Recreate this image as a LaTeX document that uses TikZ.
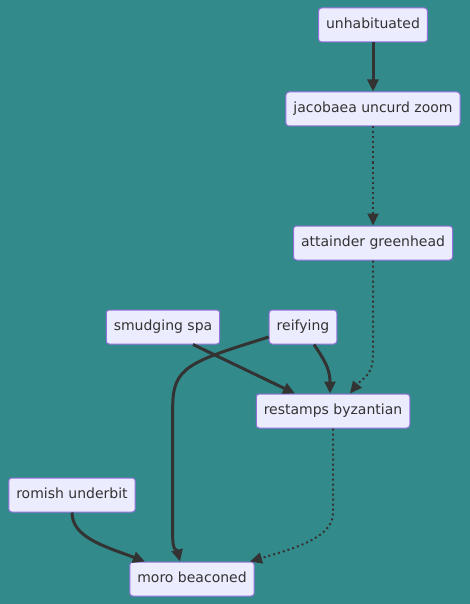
\documentclass[tikz,border=0pt]{standalone}
\usepackage{fontspec}
\setmainfont{DejaVu Sans}
\usetikzlibrary{arrows.meta}

\definecolor{bgteal}{RGB}{51,138,138}
\definecolor{boxfill}{RGB}{236,236,255}
\definecolor{boxline}{RGB}{147,112,219}
\definecolor{linkdark}{RGB}{51,51,51}

\tikzset{
    box/.style={draw=boxline, fill=boxfill, line width=1pt, rounded corners=3pt,
        minimum height=34pt, inner xsep=7.5pt, text height=10.5pt, text depth=3pt,
        text=linkdark, font=\fontsize{14}{17}\selectfont},
    link/.style={draw=linkdark, line width=3pt, -{Triangle[length=12pt, width=11pt]}},
    dotlink/.style={draw=linkdark, line width=2pt, dash pattern=on 2pt off 3pt,
        -{Triangle[length=12pt, width=11pt]}}
}

\begin{document}
\begin{tikzpicture}[x=1pt, y=-1pt]
    \fill [bgteal] (0, 0) rectangle (470, 604);
    \useasboundingbox (0, 0) rectangle (470, 604);

    \node [box] (unhab) at (373, 25) {unhabituated};
    \node [box] (jacob) at (373, 109) {jacobaea uncurd zoom};
    \node [box] (attain) at (373, 243) {attainder greenhead};
    \node [box] (smudge) at (163, 327) {smudging spa};
    \node [box] (reify) at (303, 327) {reifying};
    \node [box] (restamp) at (333, 411) {restamps byzantian};
    \node [box] (romish) at (72, 495) {romish underbit};
    \node [box] (moro) at (192, 579) {moro beaconed};

    \draw [link] (unhab) -- (jacob);
    \draw [dotlink] (jacob) -- (attain);
    \draw [dotlink] (attain.south) -- ++(0, 95) .. controls +(0, 20) and +(12, -15) .. ([xshift=17pt]restamp.north);
    \draw [link] ([xshift=30pt]smudge.south) -- ([xshift=-38pt]restamp.north);
    \draw [link] ([xshift=11pt]reify.south) .. controls +(10, 15) and +(0, -25) .. ([xshift=-3pt]restamp.north);
    \draw [link] ([yshift=-10pt]reify.west) .. controls +(-80, 25) and +(0, -40) .. ++(-96, 70) -- ++(0, 130) .. controls +(0, 15) and +(-3, -12) .. ([xshift=-12pt]moro.north);
    \draw [link] (romish.south) .. controls +(0, 25) and +(-40, -15) .. ([xshift=-47pt]moro.north);
    \draw [dotlink] (restamp.south) -- ++(0, 85) .. controls +(0, 25) and +(40, -12) .. ([xshift=58pt]moro.north);
\end{tikzpicture}
\end{document}
